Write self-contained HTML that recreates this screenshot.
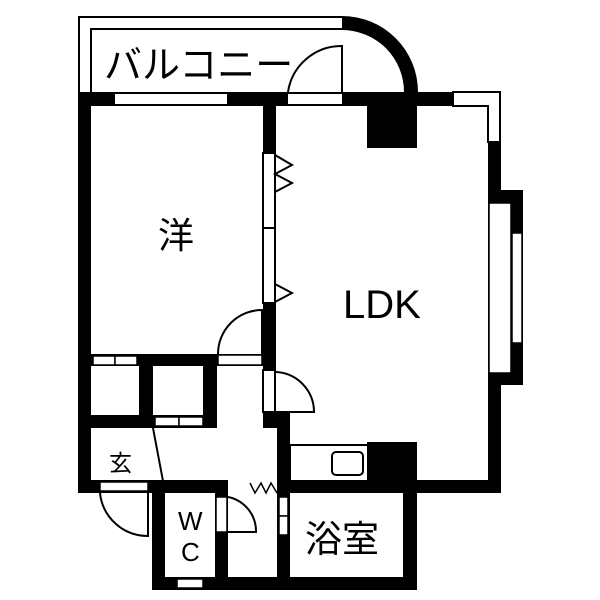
<!DOCTYPE html>
<html><head><meta charset="utf-8"><style>html,body{margin:0;padding:0;background:#fff}svg{display:block}</style></head>
<body>
<svg width="600" height="600" viewBox="0 0 600 600" xmlns="http://www.w3.org/2000/svg" font-family="'Liberation Sans','Noto Sans CJK JP',sans-serif">
<rect width="600" height="600" fill="#fff"/>
<g fill="none" stroke="#000" stroke-width="2">
<path d="M79 92 V17 H342"/>
<path d="M91 92 V29 H342"/>
</g>
<path d="M342 16 A76 76 0 0 1 418 92 H404 A62 62 0 0 0 342 30 Z" fill="#000"/>
<rect x="78" y="92" width="410" height="14" fill="#000"/>
<rect x="115" y="94" width="112" height="10" fill="#fff"/>
<rect x="288" y="94" width="54" height="10" fill="#fff"/>
<rect x="453" y="92" width="47" height="14" fill="#fff" stroke="#000" stroke-width="2"/>
<rect x="488" y="92" width="12" height="50" fill="#fff" stroke="#000" stroke-width="2"/>
<rect x="454" y="93" width="45" height="12" fill="#fff"/>
<path d="M288 92 A54 54 0 0 1 342 46 V92" fill="none" stroke="#000" stroke-width="2"/>
<rect x="78" y="92" width="13" height="401" fill="#000"/>
<rect x="367" y="106" width="50" height="42" fill="#000"/>
<rect x="488" y="142" width="13" height="351" fill="#000"/>
<rect x="488" y="190" width="35" height="195" fill="#000"/>
<rect x="489" y="203" width="22" height="170" fill="#fff" stroke="#000" stroke-width="1.5"/>
<rect x="512" y="233" width="10" height="110" fill="#fff" stroke="#000" stroke-width="1.5"/>
<rect x="263" y="106" width="13" height="47" fill="#000"/>
<rect x="263" y="153" width="12" height="150" fill="#fff" stroke="#000" stroke-width="2"/>
<line x1="263" y1="228" x2="275" y2="228" stroke="#000" stroke-width="2"/>
<path d="M275 155 L292 165 L275 174 L292 183 L275 192 M275 284 L292 293 L275 302" fill="none" stroke="#000" stroke-width="2"/>
<rect x="263" y="303" width="13" height="67" fill="#000"/>
<rect x="263" y="370" width="12" height="42" fill="#fff" stroke="#000" stroke-width="2"/>
<path d="M276 372 A40 40 0 0 1 314 412 H276" fill="none" stroke="#000" stroke-width="2"/>
<rect x="263" y="413" width="27" height="15" fill="#000"/>
<rect x="277" y="413" width="13" height="177" fill="#000"/>
<rect x="279" y="497" width="9" height="19" fill="#fff" stroke="#000" stroke-width="1.5"/>
<rect x="279" y="516" width="9" height="19" fill="#fff" stroke="#000" stroke-width="1.5"/>
<rect x="91" y="354" width="172" height="12" fill="#000"/>
<rect x="93" y="356" width="22" height="9" fill="#fff" stroke="#000" stroke-width="1.5"/>
<rect x="115" y="356" width="22" height="9" fill="#fff" stroke="#000" stroke-width="1.5"/>
<rect x="218" y="355" width="44" height="10" fill="#fff" stroke="#000" stroke-width="1.5"/>
<path d="M218 354 A44 44 0 0 1 262 310 V354" fill="none" stroke="#000" stroke-width="2"/>
<rect x="139" y="354" width="14" height="74" fill="#000"/>
<rect x="203" y="354" width="14" height="74" fill="#000"/>
<rect x="91" y="415" width="126" height="13" fill="#000"/>
<rect x="155" y="417" width="24" height="9" fill="#fff" stroke="#000" stroke-width="1.5"/>
<rect x="179" y="417" width="24" height="9" fill="#fff" stroke="#000" stroke-width="1.5"/>
<line x1="153" y1="428" x2="163" y2="481" stroke="#000" stroke-width="2"/>
<rect x="78" y="480" width="150" height="13" fill="#000"/>
<rect x="100" y="482" width="48" height="9" fill="#fff" stroke="#000" stroke-width="1.5"/>
<path d="M100 493 A48 48 0 0 0 148 536 V493" fill="none" stroke="#000" stroke-width="2"/>
<rect x="152" y="480" width="13" height="110" fill="#000"/>
<rect x="215" y="480" width="13" height="110" fill="#000"/>
<rect x="216" y="497" width="11" height="35" fill="#fff" stroke="#000" stroke-width="1.5"/>
<path d="M228 497 A35 35 0 0 1 256 532 H228" fill="none" stroke="#000" stroke-width="2"/>
<rect x="152" y="577" width="265" height="13" fill="#000"/>
<rect x="177" y="579" width="26" height="9" fill="#fff" stroke="#000" stroke-width="1.5"/>
<path d="M250 483 L255 493 L261 483 L266 493 L271 483 L277 493" fill="none" stroke="#000" stroke-width="1.5"/>
<rect x="277" y="480" width="224" height="13" fill="#000"/>
<rect x="403" y="480" width="14" height="110" fill="#000"/>
<rect x="290" y="445" width="78" height="36" fill="#fff" stroke="#000" stroke-width="2"/>
<rect x="332" y="452" width="31" height="23" rx="4" fill="#fff" stroke="#000" stroke-width="2"/>
<rect x="367" y="442" width="50" height="40" fill="#000"/>
<text x="104" y="78" font-size="38">バルコニー</text>
<text x="158" y="248" font-size="36">洋</text>
<text x="343" y="318" font-size="40">LDK</text>
<text x="109" y="471" font-size="23">玄</text>
<text x="178" y="530" font-size="26">W</text>
<text x="181" y="561" font-size="26">C</text>
<text x="305" y="552" font-size="37">浴室</text>
</svg>
</body></html>
